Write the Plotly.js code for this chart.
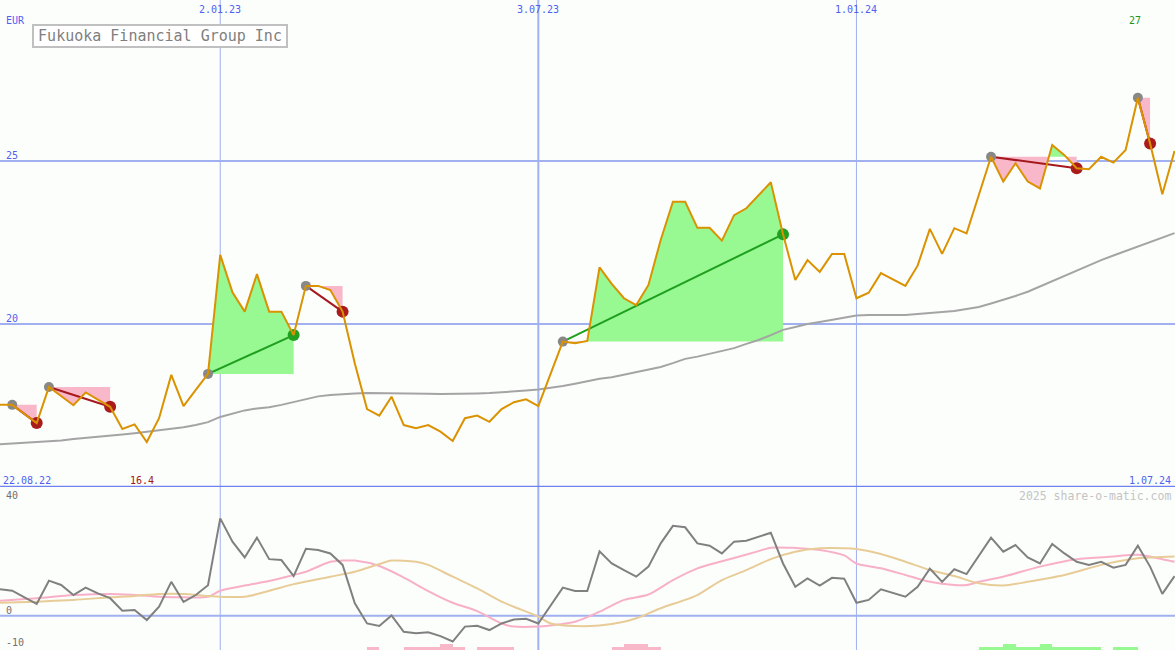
<!DOCTYPE html>
<html>
<head>
<meta charset="utf-8">
<script src="https://cdn.plot.ly/plotly-3.0.1.min.js"></script>
<style>
html,body{margin:0;padding:0;background:#fcfefc;}
#chart{width:1175px;height:650px;}
</style>
</head>
<body>
<div id="chart"></div>
<script>
// ---------- data (weekly, first week 2022-08-29) ----------
const firstWeek = '2022-08-29';
const price = [
 17.52,17.52,17.24,16.96,18.07,17.79,17.51,17.90,17.67,17.46,
 16.78,16.92,16.38,17.11,18.44,17.48,17.98,18.47,22.12,20.97,
 20.38,21.53,20.38,20.38,19.66,21.17,21.17,21.04,20.38,18.79,
 17.39,17.19,17.77,16.90,16.80,16.90,16.70,16.41,17.11,17.19,
 17.00,17.39,17.60,17.69,17.48,18.47,19.46,19.41,19.48,21.74,
 21.23,20.79,20.58,21.20,22.58,23.75,23.75,22.95,22.95,22.56,
 23.34,23.55,23.96,24.35,22.75,21.35,21.96,21.60,22.15,22.15,
 20.79,20.96,21.56,21.37,21.17,21.79,22.92,22.15,22.94,22.78,
 23.96,25.13,24.37,24.93,24.37,24.16,25.49,25.18,24.78,24.75,
 25.13,24.95,25.34,26.94,25.54,23.98,25.31
];
const movingAvg = [
 16.31,16.33,16.35,16.37,16.40,16.43,16.47,16.50,16.53,16.57,
 16.61,16.65,16.69,16.73,16.78,16.83,16.90,16.99,17.15,17.25,
 17.35,17.41,17.45,17.52,17.61,17.70,17.78,17.82,17.85,17.87,
 17.88,17.88,17.88,17.87,17.87,17.86,17.85,17.85,17.85,17.87,
 17.88,17.90,17.93,17.96,17.99,18.04,18.10,18.17,18.25,18.32,
 18.37,18.45,18.53,18.60,18.68,18.80,18.93,19.00,19.08,19.17,
 19.26,19.39,19.51,19.66,19.82,19.91,20.00,20.06,20.12,20.20,
 20.26,20.28,20.28,20.28,20.28,20.31,20.34,20.37,20.40,20.46,
 20.52,20.63,20.74,20.86,20.99,21.15,21.32,21.47,21.64,21.81,
 21.96,22.10,22.24,22.37,22.52,22.65,22.79
];
const oscillator = [
 9.2,8.7,6.4,4.1,12.2,10.7,7.2,9.8,7.8,6.1,
 1.7,2.0,-1.5,3.1,11.8,4.8,7.2,10.6,33.9,25.8,
 20.3,27.2,19.7,19.4,13.8,23.3,22.9,21.7,17.7,4.3,
 -2.7,-3.6,0.1,-5.6,-6.1,-5.8,-7.1,-9.0,-3.8,-3.5,
 -5.0,-2.7,-1.3,-1.1,-2.7,3.7,9.8,8.6,8.6,22.4,
 18.2,15.9,13.6,17.1,25.2,31.3,30.8,25.2,24.4,21.7,
 25.8,26.1,27.5,28.9,18.2,10.1,13.0,10.5,13.2,12.9,
 4.5,5.5,9.2,7.9,6.6,10.1,16.4,11.8,16.2,14.5,
 20.8,27.2,22.3,24.6,20.3,18.2,25.0,21.7,18.8,17.7,
 18.8,16.7,17.7,24.4,17.1,7.6,13.8
];
const signalWeek = [0,3,6,9,11,13,15,17,18,20,22,24,25,27,28,29,31,33,35,37,39,41,42,44,45,47,49,51,53,55,57,60,62,63,65,67,69,70,72,74,76,78,79,80,82,85,88,91,93,95,96];
const signalVal  = [5.2,6.1,7.2,7.6,7.2,6.6,6.4,6.6,8.7,10.5,12.1,14.2,15.3,18.8,19.2,19.2,17.3,13.3,8.6,4.5,1.6,-2.7,-3.8,-3.8,-3.4,-2.1,1.4,5.5,7.4,12.4,16.5,20.1,22.5,23.7,23.6,22.9,21.0,18.2,16.5,14.2,11.8,10.7,10.7,11.8,13.6,17.1,19.7,20.6,21.2,19.7,18.8];
const slowWeek = [0,3,6,9,11,13,15,17,20,22,24,27,29,31,32,34,35,37,39,41,42,44,45,47,49,51,52,54,56,57,59,61,63,65,67,69,70,72,74,76,78,80,82,84,87,90,92,93,96];
const slowVal  = [4.5,4.9,5.5,6.4,6.9,7.6,7.6,6.9,6.6,8.7,11.0,13.6,15.3,18.0,19.2,18.8,17.7,13.6,9.5,4.9,3.1,-0.3,-2.7,-3.6,-3.4,-2.1,-0.9,2.6,5.5,7.2,12.4,15.9,19.7,22.3,23.5,23.5,23.2,21.5,18.8,15.9,13.8,11.3,10.5,11.8,14.2,17.7,19.4,20.0,20.6];
const histWeek = [30,33,34,35,36,37,39,40,41,50,51,52,53,80,81,82,83,84,85,86,87,88,89,91,92];
const histVal  = [-1.1,-1.1,-1.1,-1.1,-2.1,-1.1,-1.1,-1.1,-1.1,-1.1,-2.1,-2.1,-1.1,1.1,1.1,2.1,1.1,1.1,2.1,1.1,1.1,1.1,1.1,1.1,1.1];
const patternStart = [1,4,17,25,46,81,93];
const patternEnd   = [3,9,24,28,64,88,94];
const gridDates  = ['2023-01-02','2023-07-03','2024-01-01'];
const gridLabels = ['2.01.23','3.07.23','1.01.24'];
const priceLines = [20,25];
const oscLabels  = [40,0,-10];
const chartTitle = 'Fukuoka Financial Group Inc';
const currency = 'EUR';
const firstLabel = '22.08.22', lastLabel = '1.07.24';
const lowLabel = '16.4', highLabel = '27';
const lowWeek = 12, highWeek = 93;

// ---------- build ----------
const DAY = 864e5, WEEK = 7 * DAY;
const p0 = firstWeek.split('-').map(Number);
const t0 = Date.UTC(p0[0], p0[1] - 1, p0[2]);
const t = price.map((_, i) => t0 + i * WEEK);

const GREEN_FILL = 'rgb(152,248,146)';
const PINK_FILL = 'rgb(249,184,202)';
const GRID = 'rgb(160,176,240)';
const LBL = 'rgb(80,96,240)';
const MONO = 'DejaVu Sans Mono, Liberation Mono, monospace';

const traces = [];

function bandPolygon(s, e, useMax) {
  const L = price[s];
  const xs = [], ys = [];
  let any = false;
  for (let i = s; i <= e; i++) {
    const v = useMax ? Math.max(price[i], L) : Math.min(price[i], L);
    if (useMax ? price[i] > L : price[i] < L) any = true;
    xs.push(t[i]); ys.push(v);
    if (i < e) {
      const a = price[i] - L, b = price[i + 1] - L;
      if (a * b < 0) {
        const f = a / (a - b);
        xs.push(t[i] + f * (t[i + 1] - t[i])); ys.push(L);
      }
    }
  }
  xs.push(t[e], t[s], t[s]); ys.push(L, L, ys[0]);
  return any ? {xs, ys} : null;
}

patternStart.forEach((s, k) => {
  const e = patternEnd[k];
  [[true, GREEN_FILL], [false, PINK_FILL]].forEach(([mx, col]) => {
    const poly = bandPolygon(s, e, mx);
    if (poly) traces.push({x: poly.xs, y: poly.ys, mode: 'lines', fill: 'toself',
      fillcolor: col, line: {width: 0, color: col}, hoverinfo: 'skip'});
  });
});

traces.push({x: t, y: movingAvg, mode: 'lines', line: {color: 'rgb(164,164,164)', width: 2}});

patternStart.forEach((s, k) => {
  const e = patternEnd[k];
  const up = price[e] > price[s];
  traces.push({x: [t[s], t[e]], y: [price[s], price[e]], mode: 'lines',
    line: {color: up ? 'rgb(30,160,30)' : 'rgb(165,25,30)', width: 2}});
});
traces.push({x: patternStart.map(i => t[i]), y: patternStart.map(i => price[i]), mode: 'markers',
  marker: {color: 'rgb(136,136,136)', size: 10}});
traces.push({x: patternEnd.map(i => t[i]), y: patternEnd.map(i => price[i]), mode: 'markers',
  marker: {color: patternEnd.map((e, k) => price[e] > price[patternStart[k]] ? 'rgb(34,160,34)' : 'rgb(170,28,28)'), size: 12}});

traces.push({x: t, y: price, mode: 'lines', line: {color: 'rgb(218,146,0)', width: 2}});

// lower panel
const y2min = -11.95, y2max = 44.84;
traces.push({x: histWeek.map(i => t[i]), y: histVal.map(Math.abs), base: y2min, type: 'bar',
  width: WEEK, offset: 0, yaxis: 'y2',
  marker: {color: histVal.map(v => v < 0 ? PINK_FILL : GREEN_FILL), line: {width: 0}}});
traces.push({x: signalWeek.map(i => t[i]), y: signalVal, mode: 'lines', yaxis: 'y2',
  line: {color: 'rgb(248,176,200)', width: 2, shape: 'spline', smoothing: 0.8}});
traces.push({x: slowWeek.map(i => t[i]), y: slowVal, mode: 'lines', yaxis: 'y2',
  line: {color: 'rgb(232,204,152)', width: 2, shape: 'spline', smoothing: 0.8}});
traces.push({x: t, y: oscillator, mode: 'lines', yaxis: 'y2',
  line: {color: 'rgb(128,128,128)', width: 2}});

// shapes
const shapes = [];
gridDates.forEach((d, k) => shapes.push({type: 'line', xref: 'x', yref: 'paper', x0: d, x1: d, y0: 0, y1: 1,
  line: {color: GRID, width: k === 1 ? 2 : 1}, layer: 'below'}));
priceLines.forEach(v => shapes.push({type: 'line', xref: 'paper', yref: 'y', x0: 0, x1: 1, y0: v, y1: v,
  line: {color: GRID, width: 2}, layer: 'below'}));
shapes.push({type: 'line', xref: 'paper', yref: 'y2', x0: 0, x1: 1, y0: 0, y1: 0,
  line: {color: GRID, width: 2}, layer: 'below'});
shapes.push({type: 'line', xref: 'paper', yref: 'y', x0: 0, x1: 1, y0: 15, y1: 15,
  line: {color: 'rgb(112,128,240)', width: 2.5}, layer: 'above'});

// annotations
const ann = [];
const f10 = c => ({family: MONO, size: 10, color: c});
gridDates.forEach((d, k) => ann.push({xref: 'x', yref: 'paper', x: d, y: 1, yanchor: 'top', xanchor: 'center',
  yshift: -2, text: gridLabels[k], showarrow: false, font: f10(LBL)}));
ann.push({xref: 'paper', yref: 'paper', x: 0, y: 1 - 20 / 650, xanchor: 'left', yanchor: 'middle', xshift: 4,
  text: currency, showarrow: false, font: f10(LBL)});
priceLines.forEach(v => ann.push({xref: 'paper', yref: 'y', x: 0, y: v, xanchor: 'left', yanchor: 'bottom',
  xshift: 4, yshift: -2, text: String(v), showarrow: false, font: f10(LBL)}));
oscLabels.forEach(v => ann.push({xref: 'paper', yref: 'y2', x: 0, y: v, xanchor: 'left', yanchor: 'bottom',
  xshift: 4, yshift: v < 0 ? -6 : -2, text: String(v), showarrow: false, font: f10('rgb(112,112,112)')}));
ann.push({xref: 'paper', yref: 'y', x: 0, y: 15, xanchor: 'left', yanchor: 'bottom', xshift: 1, yshift: -1,
  text: firstLabel, showarrow: false, font: f10(LBL)});
ann.push({xref: 'paper', yref: 'y', x: 1, y: 15, xanchor: 'right', yanchor: 'bottom', xshift: -2, yshift: -1,
  text: lastLabel, showarrow: false, font: f10(LBL)});
ann.push({xref: 'x', yref: 'y', x: t[lowWeek], y: 15, xanchor: 'center', yanchor: 'bottom', xshift: -5, yshift: -1,
  text: lowLabel, showarrow: false, font: f10('rgb(160,24,24)')});
ann.push({xref: 'x', yref: 'paper', x: t[highWeek], y: 1 - 21 / 650, xanchor: 'center', yanchor: 'middle', xshift: -3,
  text: highLabel, showarrow: false, font: f10('rgb(30,150,30)')});
ann.push({xref: 'paper', yref: 'paper', x: 1, y: 1 - 496 / 650, xanchor: 'right', yanchor: 'middle', xshift: -2,
  text: '2025 share-o-matic.com', showarrow: false, font: {family: MONO, size: 11.5, color: 'rgb(196,196,196)'}});
ann.push({xref: 'paper', yref: 'paper', x: 32 / 1175, y: 1 - 24 / 650, xanchor: 'left', yanchor: 'top',
  text: chartTitle, showarrow: false, width: 250, height: 18, borderpad: 1, borderwidth: 2,
  bordercolor: 'rgb(192,192,192)', bgcolor: '#ffffff', align: 'center',
  font: {family: MONO, size: 15, color: 'rgb(128,128,128)'}});

const split = 1 - 487 / 650;
const layout = {
  width: 1175, height: 650,
  margin: {l: 0, r: 0, t: 0, b: 0, pad: 0},
  paper_bgcolor: '#fcfefc', plot_bgcolor: '#fcfefc',
  showlegend: false, hovermode: false, bargap: 0,
  xaxis: {type: 'date', range: ['2022-08-29', '2024-07-01 06:00'], showgrid: false, zeroline: false,
    showticklabels: false, showline: false, ticks: ''},
  yaxis: {domain: [split, 1], range: [15, 29.94], showgrid: false, zeroline: false,
    showticklabels: false, ticks: ''},
  yaxis2: {domain: [0, split], range: [y2min, y2max], showgrid: false, zeroline: false,
    showticklabels: false, ticks: '', anchor: 'x'},
  shapes: shapes,
  annotations: ann
};

Plotly.newPlot('chart', traces, layout, {staticPlot: true, displayModeBar: false});
</script>
</body>
</html>
